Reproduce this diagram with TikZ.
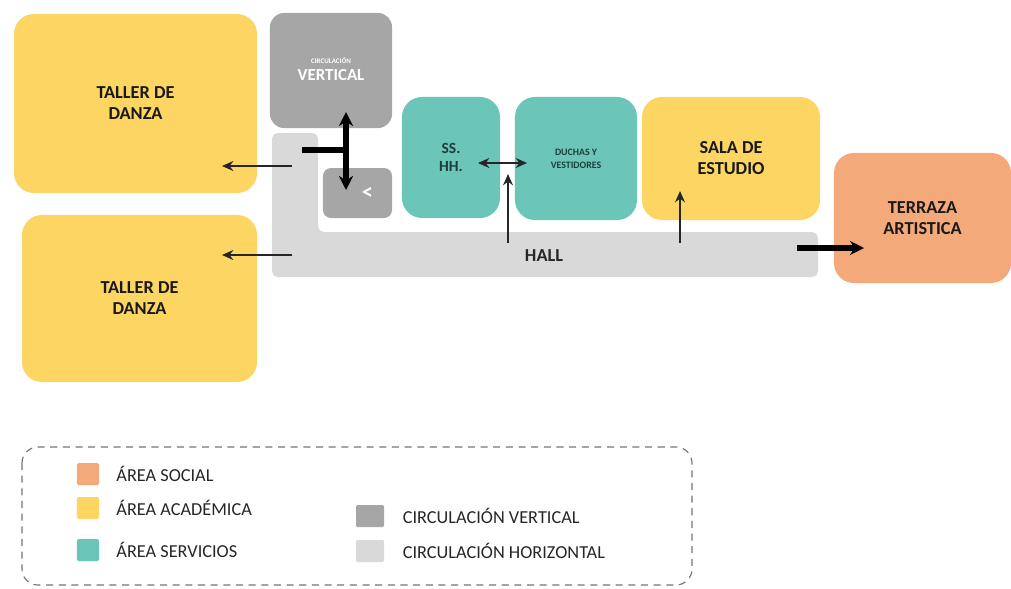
\documentclass[tikz,border=0pt]{standalone}
\usepackage{fontspec}
\setmainfont{Carlito}
\definecolor{acadyellow}{RGB}{252, 213, 99}
\definecolor{socialorange}{RGB}{244, 169, 122}
\definecolor{servteal}{RGB}{108, 197, 185}
\definecolor{vertgray}{RGB}{166, 166, 166}
\definecolor{horizgray}{RGB}{217, 217, 217}
\definecolor{tealtext}{RGB}{28, 62, 58}
\usepackage{tikz}
\usetikzlibrary{arrows.meta, positioning, calc}
\tikzset{
  zone/.style={rounded corners=0.5cm, inner sep=2pt, align=center, font=\fontsize{13}{15}\selectfont\bfseries},
  acadnode/.style={zone, fill=acadyellow, text=black!90},
  socialnode/.style={zone, fill=socialorange, text=black!90},
  servnode/.style={zone, fill=servteal, text=tealtext},
  vertnode/.style={zone, fill=vertgray, text=white, rounded corners=0.35cm},
  legsq/.style={minimum width=0.55cm, minimum height=0.55cm, inner sep=0pt, rounded corners=1pt},
  legtext/.style={anchor=west, inner sep=0pt, font=\fontsize{13}{15}\selectfont, text=black!85},
  thinarrow/.style={-{Stealth[length=8pt,width=7pt]}, line width=1.8pt, black!85},
  fatarrow/.style={-{Stealth[length=10pt,width=10pt]}, line width=3.6pt, black},
}
\begin{document}
\begin{tikzpicture}[x=0.025cm, y=-0.025cm]
  \useasboundingbox (0,0) rectangle (1011,588);
  % hall (circulacion horizontal)
  \fill[horizgray, rounded corners=4pt] (272,133) -- (318,133) -- (318,232) -- (818,232) -- (818,277) -- (272,277) -- cycle;
  \node[font=\fontsize{13}{15}\selectfont\bfseries, text=black!85] (hall) at (544,256) {HALL};
  % spaces
  \node[acadnode, minimum width=6.075cm, minimum height=4.475cm] (taller1) at (135.5,103.5) {TALLER DE\\DANZA};
  \node[acadnode, minimum width=5.875cm, minimum height=4.175cm] (taller2) at (139.5,298.5) {TALLER DE\\DANZA};
  \node[vertnode, minimum width=3.05cm, minimum height=2.875cm] (cv) at (331,70.5) {};
  \node[text=white, font=\fontsize{5}{6}\selectfont\bfseries] (cvtop) at (331,61) {CIRCULACIÓN};
  \node[text=white, font=\fontsize{12}{14}\selectfont\bfseries, below=-3pt of cvtop] (cvbot) {VERTICAL};
  \node[vertnode, minimum width=1.725cm, minimum height=1.25cm, rounded corners=0.2cm, font=\fontsize{16}{18}\selectfont\bfseries] (asc) at (357.5,193) {\hspace{0.5cm}<};
  \node[servnode, minimum width=2.45cm, minimum height=3.025cm, font=\fontsize{11}{13}\selectfont\bfseries] (sshh) at (451,157.5) {SS.\\HH.};
  \node[servnode, minimum width=3.05cm, minimum height=3.075cm, font=\fontsize{7}{9}\selectfont\bfseries] (duchas) at (576,158.5) {DUCHAS Y\\VESTIDORES};
  \node[acadnode, minimum width=4.45cm, minimum height=3.075cm] (sala) at (731,158.5) {SALA DE\\ESTUDIO};
  \node[socialnode, minimum width=4.425cm, minimum height=3.25cm] (terraza) at (922.5,218) {TERRAZA\\ARTISTICA};
  % arrow ends
  \coordinate (h1) at (292,166); \coordinate (t1) at (222,166);
  \coordinate (h2) at (292,255); \coordinate (t2) at (222,255);
  \coordinate (vtop) at (346,112); \coordinate (vbot) at (346,190);
  \coordinate (vin) at (302,150); \coordinate (vjoin) at (346,150);
  \coordinate (ssr) at (478,163); \coordinate (dul) at (527,163);
  \coordinate (hs) at (508,243); \coordinate (hsend) at (508,174);
  \coordinate (he) at (680,243); \coordinate (heend) at (680,191);
  \coordinate (ht) at (797,248); \coordinate (tt) at (864,248);
  % connectors
  \draw[thinarrow] (h1) -- (t1);
  \draw[thinarrow] (h2) -- (t2);
  \draw[fatarrow, {Stealth[length=10pt,width=10pt]}-{Stealth[length=10pt,width=10pt]}] (vtop) -- (vbot);
  \draw[line width=3.6pt] (vin) -- (vjoin);
  \draw[thinarrow, {Stealth[length=8pt,width=7pt]}-{Stealth[length=8pt,width=7pt]}] (ssr) -- (dul);
  \draw[thinarrow] (hs) -- (hsend);
  \draw[thinarrow] (he) -- (heend);
  \draw[fatarrow] (ht) -- (tt);
  % legend
  \draw[black!55, dashed, dash pattern=on 5pt off 4pt, line width=0.8pt, rounded corners=0.4cm] (22,447) rectangle (692,585);
  \node[legsq, fill=socialorange] (lsoc) at (88,474) {};
  \node[legsq, fill=acadyellow] (lacad) at (88,508) {};
  \node[legsq, fill=servteal] (lserv) at (88,550) {};
  \node[legtext, right=12pt of lsoc] {ÁREA SOCIAL};
  \node[legtext, right=12pt of lacad] {ÁREA ACADÉMICA};
  \node[legtext, right=12pt of lserv] {ÁREA SERVICIOS};
  \node[legsq, fill=vertgray, minimum width=0.7cm] (lvert) at (370,516) {};
  \node[legsq, fill=horizgray, minimum width=0.7cm] (lhoriz) at (370,551) {};
  \node[legtext, right=13pt of lvert] {CIRCULACIÓN VERTICAL};
  \node[legtext, right=13pt of lhoriz] {CIRCULACIÓN HORIZONTAL};
\end{tikzpicture}
\end{document}
